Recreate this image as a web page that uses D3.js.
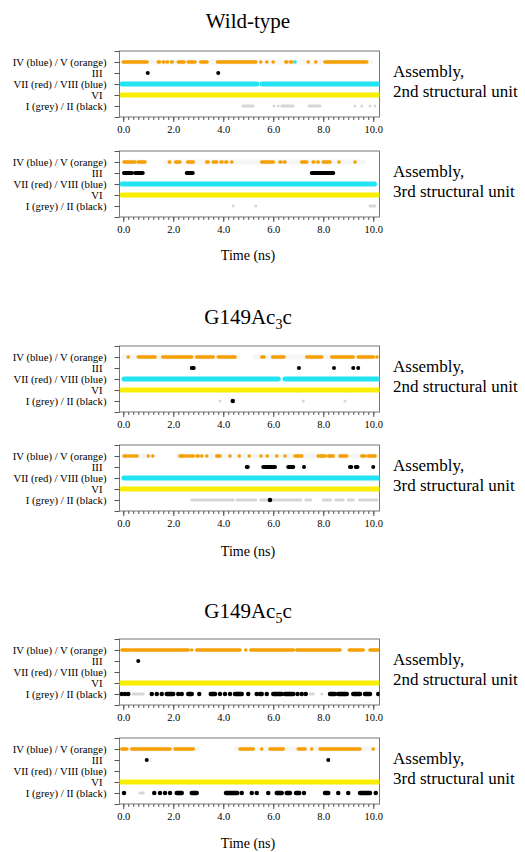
<!DOCTYPE html>
<html>
<head>
<meta charset="utf-8">
<script src="https://cdn.jsdelivr.net/npm/d3@7"></script>
<style>
  body { margin: 0; background: #fff; }
</style>
</head>
<body>
<div class="root"></div>
<script>
// row labels, top to bottom, and their level on the y scale
var rowLabels = ['IV (blue) / V (orange)', 'III', 'VII (red) / VIII (blue)', 'VI', 'I (grey) / II (black)'];
var rowLevels = [5, 4, 3, 2, 1];
var majorTicks = [0, 2, 4, 6, 8, 10];

// occupancy runs, [start ns, end ns]; start == end is a single frame

// Wild-type, 2nd structural unit
var wt2Faint  = [[0.0, 9.9]];
var wt2Orange = [[0.0, 0.95], [1.4, 1.45], [1.6, 1.62], [1.75, 1.77], [1.93, 1.96], [2.2, 2.43], [2.6, 2.87], [3.1, 3.35], [3.77, 5.3], [5.5, 5.5], [5.74, 5.74], [6.0, 6.0], [6.5, 6.55], [6.7, 6.74], [7.4, 7.4], [7.7, 7.7], [8.07, 9.74]];
var wt2Blue   = [[6.87, 6.87]];
var wt2III    = [[0.98, 0.98], [3.8, 3.8]];
var wt2Cyan   = [[-0.05, 5.35], [5.55, 10.2]];
var wt2Yellow = [[-0.05, 10.2]];
var wt2Grey   = [[4.78, 5.2], [6.03, 6.03], [6.2, 6.2], [6.34, 6.8], [7.43, 7.87], [9.27, 9.27], [9.54, 9.54], [9.87, 9.87], [10.07, 10.07]];
var wt2Black  = [];

// Wild-type, 3rd structural unit
var wt3Faint  = [[0.03, 0.8], [1.7, 9.6]];
var wt3Orange = [[0.03, 0.47], [0.6, 0.87], [1.84, 1.86], [2.1, 2.27], [2.58, 2.8], [3.34, 3.4], [3.6, 3.74], [3.91, 3.95], [4.1, 4.14], [4.34, 4.34], [5.54, 5.67], [5.74, 6.0], [6.27, 6.3], [6.44, 6.47], [7.14, 7.34], [7.6, 7.62], [7.78, 7.8], [8.0, 8.27], [8.63, 8.63], [9.27, 9.27]];
var wt3Blue   = [];
var wt3III    = [[0.03, 0.34], [0.47, 0.78], [2.54, 2.78], [7.54, 8.4]];
var wt3Cyan   = [[-0.05, 10.05]];
var wt3Yellow = [[-0.05, 10.2]];
var wt3Grey   = [[4.4, 4.4], [5.3, 5.3], [9.87, 10.07]];
var wt3Black  = [];

// G149Ac3c, 2nd structural unit
var c3u2Faint  = [[0.0, 4.6], [5.3, 10.1]];
var c3u2Orange = [[0.2, 0.2], [0.6, 1.27], [1.58, 2.74], [2.94, 3.6], [3.8, 4.47], [5.54, 5.63], [5.98, 6.43], [7.34, 7.94], [8.34, 9.2], [9.4, 10.0], [10.15, 10.15]];
var c3u2Blue   = [];
var c3u2III    = [[2.74, 2.82], [7.03, 7.03], [8.43, 8.43], [9.2, 9.2], [9.4, 9.4]];
var c3u2Cyan   = [[0.03, 6.2], [6.47, 10.2]];
var c3u2Yellow = [[-0.05, 10.2]];
var c3u2Grey   = [[3.87, 3.87], [7.2, 7.2], [8.87, 8.87]];
var c3u2Black  = [[4.38, 4.38]];

// G149Ac3c, 3rd structural unit
var c3u3Faint  = [[0.03, 1.2], [2.2, 10.1]];
var c3u3Orange = [[0.03, 0.1], [0.2, 0.25], [0.35, 0.4], [0.5, 0.55], [1.0, 1.0], [1.18, 1.18], [2.27, 2.5], [2.6, 2.65], [2.75, 2.8], [2.95, 3.0], [3.14, 3.14], [3.34, 3.34], [3.74, 3.87], [4.27, 4.27], [4.64, 4.64], [5.04, 5.04], [5.51, 5.51], [5.76, 5.76], [6.14, 6.14], [6.47, 6.47], [6.87, 7.14], [7.8, 8.07], [8.2, 8.4], [8.67, 8.94], [9.54, 9.67], [9.8, 10.07]];
var c3u3Blue   = [];
var c3u3III    = [[4.94, 4.98], [5.6, 5.6], [5.67, 6.07], [6.6, 6.8], [7.23, 7.23], [9.07, 9.12], [9.3, 9.37], [10.0, 10.0]];
var c3u3Cyan   = [[0.03, 10.2]];
var c3u3Yellow = [[-0.05, 10.2]];
var c3u3Grey   = [[2.74, 4.4], [4.55, 5.3], [5.5, 7.1], [7.3, 7.5], [8.0, 8.3], [8.5, 8.8], [9.0, 9.2], [9.45, 10.15]];
var c3u3Black  = [[5.87, 5.87]];

// G149Ac5c, 2nd structural unit
var c5u2Faint  = [];
var c5u2Orange = [[-0.05, 0.34], [0.42, 2.6], [2.74, 2.74], [2.94, 4.67], [4.9, 4.9], [5.1, 6.8], [6.94, 8.67], [9.04, 9.6], [9.87, 10.2]];
var c5u2Blue   = [];
var c5u2III    = [[0.6, 0.6]];
var c5u2Cyan   = [];
var c5u2Yellow = [[-0.1, 10.2]];
var c5u2Grey   = [[0.4, 0.8], [7.47, 7.6], [7.94, 7.94]];
var c5u2Black  = [[-0.06, -0.06], [0.07, 0.07], [0.2, 0.2], [1.14, 1.14], [1.34, 1.34], [1.54, 1.54], [1.74, 2.0], [2.2, 2.2], [2.34, 2.34], [2.6, 2.74], [3.04, 3.04], [3.5, 3.67], [3.87, 3.87], [4.07, 4.07], [4.27, 4.27], [4.47, 4.74], [5.0, 5.0], [5.34, 5.34], [5.47, 5.54], [5.74, 5.74], [6.0, 6.34], [6.47, 6.8], [6.97, 6.97], [7.14, 7.14], [7.3, 7.3], [8.27, 8.47], [8.6, 8.94], [9.2, 9.47], [9.67, 9.87], [10.2, 10.2]];

// G149Ac5c, 3rd structural unit
var c5u3Faint  = [[0.0, 3.0], [4.5, 10.0]];
var c5u3Orange = [[-0.06, 0.14], [0.34, 1.87], [2.07, 2.8], [4.67, 5.2], [5.54, 5.54], [5.87, 6.4], [7.0, 7.27], [7.54, 7.54], [7.87, 9.47], [10.0, 10.0]];
var c5u3Blue   = [];
var c5u3III    = [[0.94, 0.94], [8.2, 8.2]];
var c5u3Cyan   = [];
var c5u3Yellow = [[-0.1, 10.2]];
var c5u3Grey   = [[0.67, 0.8]];
var c5u3Black  = [[0.03, 0.03], [1.24, 1.24], [1.47, 1.47], [1.67, 1.67], [1.87, 1.87], [2.14, 2.34], [2.74, 2.94], [4.11, 4.56], [4.74, 4.74], [5.14, 5.14], [5.34, 5.34], [5.8, 5.8], [6.14, 6.34], [6.54, 6.67], [6.91, 7.04], [7.23, 7.23], [8.07, 8.2], [8.6, 8.6], [9.0, 9.0], [9.47, 9.87], [10.1, 10.1]];

var serif = "'Liberation Serif', 'Times New Roman', Times, serif";

function runChart() {
  var w = 525, h = 852;

  var svg = d3.select('.root').append('svg')
    .attr('width', w)
    .attr('height', h);

  var x = d3.scaleLinear().domain([-0.15, 10.25]).range([119.5, 379.5]);
  var y = d3.scaleLinear().domain([0, 6]).range([66, 0]);

  // series -> row + look
  function layers(faint, orange, blue, iii, cyan, yellow, grey, black) {
    return [
      {data: faint,  level: 5, color: '#f6f6f6', width: 5},
      {data: orange, level: 5, color: '#f5a000', width: 3.6},
      {data: blue,   level: 5, color: '#22e4f2', width: 3.6},
      {data: iii,    level: 4, color: '#000',    width: 4},
      {data: cyan,   level: 3, color: '#22e4f2', width: 5},
      {data: yellow, level: 2, color: '#f8ee00', width: 5},
      {data: grey,   level: 1, color: '#d6d6d6', width: 3},
      {data: black,  level: 1, color: '#000',    width: 4.5}
    ];
  }

  var groups = [
    {title: 'Wild-type', sub: null, titleY: 28, timeY: 260, panels: [
      {top: 51,  unit: '2nd', layers: layers(wt2Faint, wt2Orange, wt2Blue, wt2III, wt2Cyan, wt2Yellow, wt2Grey, wt2Black)},
      {top: 151, unit: '3rd', layers: layers(wt3Faint, wt3Orange, wt3Blue, wt3III, wt3Cyan, wt3Yellow, wt3Grey, wt3Black)}
    ]},
    {title: 'G149Ac', sub: '3', titleY: 324, timeY: 556, panels: [
      {top: 346, unit: '2nd', layers: layers(c3u2Faint, c3u2Orange, c3u2Blue, c3u2III, c3u2Cyan, c3u2Yellow, c3u2Grey, c3u2Black)},
      {top: 445, unit: '3rd', layers: layers(c3u3Faint, c3u3Orange, c3u3Blue, c3u3III, c3u3Cyan, c3u3Yellow, c3u3Grey, c3u3Black)}
    ]},
    {title: 'G149Ac', sub: '5', titleY: 618, timeY: 848, panels: [
      {top: 639, unit: '2nd', layers: layers(c5u2Faint, c5u2Orange, c5u2Blue, c5u2III, c5u2Cyan, c5u2Yellow, c5u2Grey, c5u2Black)},
      {top: 738, unit: '3rd', layers: layers(c5u3Faint, c5u3Orange, c5u3Blue, c5u3III, c5u3Cyan, c5u3Yellow, c5u3Grey, c5u3Black)}
    ]}
  ];

  groups.forEach(function(g) {
    var t = svg.append('text')
      .attr('x', 248)
      .attr('y', g.titleY)
      .attr('text-anchor', 'middle')
      .attr('font-family', serif)
      .attr('font-size', 21)
      .text(g.title);
    if (g.sub) {
      t.append('tspan').attr('dy', 5).attr('font-size', 14).text(g.sub);
      t.append('tspan').attr('dy', -5).text('c');
    }

    g.panels.forEach(function(p) {
      var pg = svg.append('g').attr('transform', 'translate(0,' + p.top + ')');

      pg.append('rect')
        .attr('x', x.range()[0])
        .attr('y', 0)
        .attr('width', x.range()[1] - x.range()[0])
        .attr('height', 66)
        .attr('fill', '#fff')
        .attr('stroke', '#777')
        .attr('stroke-width', 1);

      var clipId = 'clip' + p.top;
      pg.append('clipPath').attr('id', clipId)
        .append('rect')
          .attr('x', x.range()[0])
          .attr('y', 0)
          .attr('width', x.range()[1] - x.range()[0])
          .attr('height', 66);

      var marks = pg.append('g').attr('clip-path', 'url(#' + clipId + ')');
      p.layers.forEach(function(l) {
        marks.append('g').selectAll('line')
          .data(l.data)
          .enter().append('line')
            .attr('x1', function(d) { return x(d[0]); })
            .attr('x2', function(d) { return x(d[1]) + 0.01; })
            .attr('y1', y(l.level))
            .attr('y2', y(l.level))
            .attr('stroke', l.color)
            .attr('stroke-width', l.width)
            .attr('stroke-linecap', 'round');
      });

      // y axis with row labels
      var ya = pg.append('g')
        .attr('transform', 'translate(' + x.range()[0] + ',0)')
        .call(d3.axisLeft(y)
          .tickValues([0, 1, 2, 3, 4, 5, 6])
          .tickSize(5)
          .tickPadding(8)
          .tickFormat(function(v) {
            var i = rowLevels.indexOf(v);
            return i < 0 ? '' : rowLabels[i];
          }));
      ya.attr('font-family', serif).attr('font-size', 10.7);
      ya.select('.domain').remove();
      ya.selectAll('line').attr('stroke', '#555');
      ya.selectAll('text')
        .attr('dx', function(v) { return (v === 4 || v === 2) ? -4 : 0; });

      // x axis: minor ticks every 0.2 ns, labels every 2 ns
      var xMinor = pg.append('g')
        .attr('transform', 'translate(0,66)')
        .call(d3.axisBottom(x)
          .tickValues(d3.range(0, 51).map(function(i) { return i * 0.2; }))
          .tickSize(3)
          .tickFormat(''));
      xMinor.select('.domain').remove();
      xMinor.selectAll('line').attr('stroke', '#555');

      var xMajor = pg.append('g')
        .attr('transform', 'translate(0,66)')
        .call(d3.axisBottom(x)
          .tickValues(majorTicks)
          .tickSize(5)
          .tickPadding(4)
          .tickFormat(d3.format('.1f')));
      xMajor.attr('font-family', serif).attr('font-size', 10.5);
      xMajor.select('.domain').remove();
      xMajor.selectAll('line').attr('stroke', '#555');

      // right side caption
      var cap = pg.append('text')
        .attr('x', 393)
        .attr('y', 26)
        .attr('font-family', serif)
        .attr('font-size', 17);
      cap.append('tspan').attr('x', 393).text('Assembly,');
      cap.append('tspan').attr('x', 393).attr('dy', 20).text(p.unit + ' structural unit');
    });

    svg.append('text')
      .attr('x', 248)
      .attr('y', g.timeY)
      .attr('text-anchor', 'middle')
      .attr('font-family', serif)
      .attr('font-size', 14)
      .text('Time (ns)');
  });
}

window.onload = function() {
  runChart();
};
</script>
</body>
</html>
